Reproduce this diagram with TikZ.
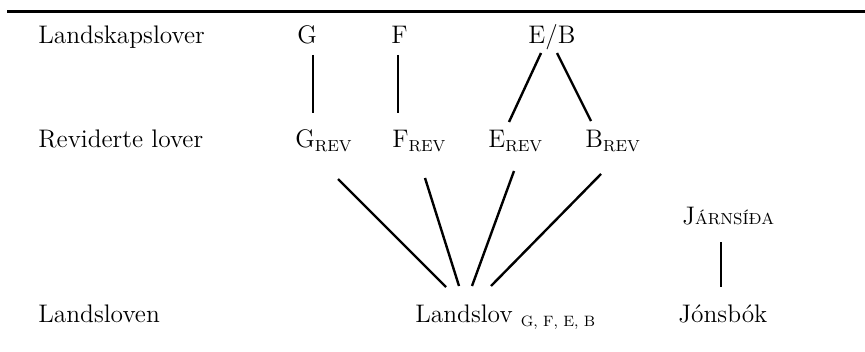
\documentclass[tikz,border=0pt]{standalone}
\usepackage{fontspec}
\newcommand\smc[1]{{\fontsize{8}{9}\selectfont #1}}
\newcommand\rev{\raisebox{-1.75pt}{\smc{REV}}}
\tikzset{
  lbl/.style={anchor=base west, inner sep=0pt, font=\fontsize{12.7}{15}\selectfont},
  link/.style={line width=1.2pt},
}
\begin{document}
\begin{tikzpicture}[x=0.5pt,y=-0.5pt]
\useasboundingbox (0,0) rectangle (865,352);
\draw[line width=1.5pt] (7,12) -- (865,12);
% row names
\node[lbl] (landskap) at (38,44) {Landskapslover};
\node[lbl] (revid) at (38,148) {Reviderte lover};
\node[lbl] (landsl) at (38,322) {Landsloven};
% old laws
\node[lbl] (g) at (297,44) {G};
\node[lbl] (f) at (391,44) {F};
\node[lbl] (eb) at (528,44) {E/B};
% revised
\node[lbl] (grev) at (295,148) {G\rev};
\node[lbl] (frev) at (392,148) {F\rev};
\node[lbl] (erev) at (488,148) {E\rev};
\node[lbl] (brev) at (585,148) {B\rev};
% land law
\node[lbl] (ls) at (415,322) {Landslov\ \raisebox{-2pt}{\fontsize{7.5}{8}\selectfont G, F, E, B}};
\node[lbl] (jarn) at (682,224) {J\smc{ÁRNSÍÐA}};
\node[lbl] (jons) at (678,322) {Jónsbók};
% connectors
\draw[link] ([shift={(16,11)}]g.base west) -- ([shift={(18,-35)}]grev.base west);
\draw[link] ([shift={(7,11)}]f.base west) -- ([shift={(6,-35)}]frev.base west);
\draw[link] ([shift={(13,9)}]eb.base west) -- ([shift={(21,-26)}]erev.base west);
\draw[link] ([shift={(29,9)}]eb.base west) -- ([shift={(6,-27)}]brev.base west);
\draw[link] ([shift={(43,31)}]grev.base west) -- ([shift={(31,-35)}]ls.base west);
\draw[link] ([shift={(33,30)}]frev.base west) -- ([shift={(44,-36)}]ls.base west);
\draw[link] ([shift={(26,23)}]erev.base west) -- ([shift={(57,-36)}]ls.base west);
\draw[link] ([shift={(16,26)}]brev.base west) -- ([shift={(76,-36)}]ls.base west);
\draw[link] ([shift={(39,18)}]jarn.base west) -- ([shift={(43,-35)}]jons.base west);
\end{tikzpicture}
\end{document}
